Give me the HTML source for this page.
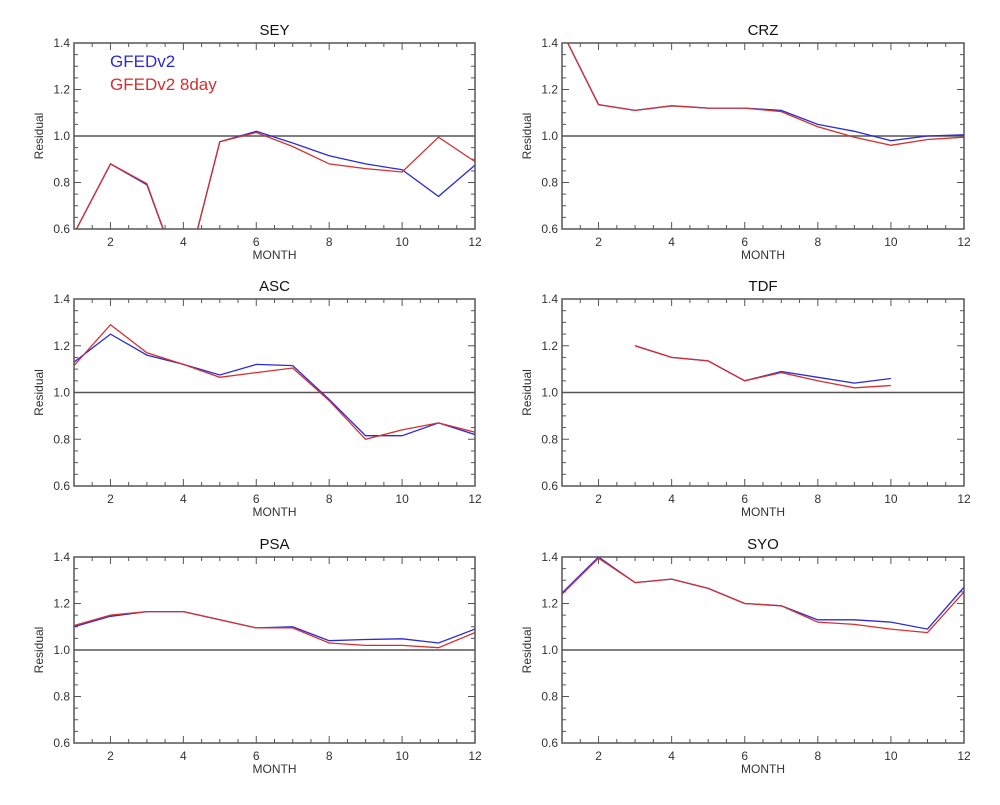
<!DOCTYPE html>
<html><head><meta charset="utf-8">
<style>
html,body{margin:0;padding:0;background:#fff;}
svg{display:block;font-family:"Liberation Sans",sans-serif;}
</style></head>
<body>
<svg id="fig" width="1000" height="805" viewBox="0 0 1000 805" xmlns="http://www.w3.org/2000/svg"></svg>
<script>
const months = [1,2,3,4,5,6,7,8,9,10,11,12];
const panelNames = ["SEY","CRZ","ASC","TDF","PSA","SYO"];
const yTicks = [0.6,0.8,1.0,1.2,1.4];
const yTickLabels = ["0.6","0.8","1.0","1.2","1.4"];
const xTicks = [2,4,6,8,10,12];
const seyBlue = [0.58,0.88,0.79,0.36,0.975,1.02,0.97,0.915,0.88,0.855,0.74,0.875];
const seyRed  = [0.58,0.88,0.795,0.36,0.975,1.015,0.955,0.88,0.86,0.845,0.995,0.89];
const crzBlue = [1.45,1.135,1.11,1.13,1.12,1.12,1.11,1.05,1.02,0.98,1.0,1.005];
const crzRed  = [1.45,1.135,1.11,1.13,1.12,1.12,1.105,1.04,0.995,0.96,0.985,0.995];
const ascBlue = [1.13,1.25,1.16,1.12,1.075,1.12,1.115,0.97,0.815,0.815,0.87,0.82];
const ascRed  = [1.115,1.29,1.17,1.12,1.065,1.085,1.105,0.965,0.80,0.84,0.87,0.83];
const tdfBlue = [null,null,1.20,1.15,1.135,1.05,1.09,1.065,1.04,1.06,null,null];
const tdfRed  = [null,null,1.20,1.15,1.135,1.05,1.085,1.05,1.02,1.03,null,null];
const psaBlue = [1.10,1.145,1.165,1.165,1.13,1.095,1.10,1.04,1.045,1.048,1.03,1.09];
const psaRed  = [1.105,1.15,1.165,1.165,1.13,1.095,1.095,1.03,1.02,1.02,1.01,1.075];
const syoBlue = [1.245,1.40,1.29,1.305,1.265,1.20,1.19,1.13,1.13,1.12,1.09,1.27];
const syoRed  = [1.24,1.395,1.29,1.305,1.265,1.20,1.19,1.12,1.11,1.09,1.075,1.25];

const blueSeries = [seyBlue,crzBlue,ascBlue,tdfBlue,psaBlue,syoBlue];
const redSeries = [seyRed,crzRed,ascRed,tdfRed,psaRed,syoRed];

const NS = "http://www.w3.org/2000/svg";
const svg = document.getElementById("fig");
function mk(tag, attrs, parent){
  const e = document.createElementNS(NS, tag);
  for (const k in attrs) e.setAttribute(k, attrs[k]);
  (parent||svg).appendChild(e);
  return e;
}
const lefts = [74,562], rights = [475,964];
const tops = [43,299,557], bottoms = [229,486,743];

panelNames.forEach((name, i) => {
  const col = i % 2, row = Math.floor(i/2);
  const L = lefts[col], R = rights[col], T = tops[row], B = bottoms[row];
  const xs = m => L + (m-1)/(11)*(R-L);
  const ys = v => B - (v-0.6)/0.8*(B-T);
  const g = mk("g", {});
  
  
  const clipId = "clip"+i;
  const cp = mk("clipPath", {id: clipId}, g);
  mk("rect", {x:L, y:T, width:R-L, height:B-T}, cp);

  // minor/major ticks
  for (let m = 1; m <= 12.001; m += 0.5) {
    const major = (m % 2 === 0);
    const len = major ? 7 : 4;
    const x = xs(m);
    mk("line", {x1:x, y1:B, x2:x, y2:B-len, stroke:"#555", "stroke-width":1}, g);
    mk("line", {x1:x, y1:T, x2:x, y2:T+len, stroke:"#555", "stroke-width":1}, g);
  }
  for (let k = 0; k <= 16; k++) {
    const v = 0.6 + k*0.05;
    const major = (k % 4 === 0);
    const len = major ? 7 : 4;
    const y = ys(v);
    mk("line", {x1:L, y1:y, x2:L+len, y2:y, stroke:"#555", "stroke-width":1}, g);
    mk("line", {x1:R, y1:y, x2:R-len, y2:y, stroke:"#555", "stroke-width":1}, g);
  }
  // reference line
  const ref = mk("line", {x1:L, y1:ys(1.0), x2:R, y2:ys(1.0), stroke:"#555", "stroke-width":1.5}, g);
  
  

  // series
  [[blueSeries[i],"#2b2bd8","gfedv2"],[redSeries[i],"#d43030","gfedv2-8day"]].forEach(([arr,color,nm]) => {
    let d = "", pen = false;
    arr.forEach((v, j) => {
      if (v === null) { pen = false; return; }
      d += (pen ? "L" : "M") + xs(months[j]).toFixed(1) + "," + ys(v).toFixed(1);
      pen = true;
    });
    const p = mk("path", {d:d, fill:"none", stroke:color, "stroke-width":1.3, "clip-path":"url(#"+clipId+")"}, g);
    
    
  });

  // frame
  mk("rect", {x:L, y:T, width:R-L, height:B-T, fill:"none", stroke:"#555", "stroke-width":1.5}, g);

  // labels
  yTicks.forEach((v, k) => {
    const t = mk("text", {x:L-4, y:ys(v)+4, "text-anchor":"end", "font-size":12, fill:"#333"}, g);
    t.textContent = yTickLabels[k];
    
    
  });
  xTicks.forEach(m => {
    const t = mk("text", {x:xs(m), y:B+17, "text-anchor":"middle", "font-size":12, fill:"#333"}, g);
    t.textContent = String(m);
    
    
  });
  const xt = mk("text", {x:(L+R)/2, y:B+30, "text-anchor":"middle", "font-size":12, fill:"#333"}, g);
  xt.textContent = "MONTH";
  
  
  const yt = mk("text", {x:0, y:0, "text-anchor":"middle", "font-size":12, fill:"#333", transform:"translate("+(L-31)+","+((T+B)/2)+") rotate(-90)"}, g);
  yt.textContent = "Residual";
  
  
  const tt = mk("text", {x:(L+R)/2, y:T-8, "text-anchor":"middle", "font-size":15, fill:"#111"}, g);
  tt.textContent = name;
  
  

  if (i === 0) {
    const l1 = mk("text", {x:110, y:67, "font-size":17, fill:"#2b2bd8"}, g);
    l1.textContent = "GFEDv2";
    
    
    const l2 = mk("text", {x:110, y:90, "font-size":17, fill:"#d43030"}, g);
    l2.textContent = "GFEDv2 8day";
    
    
  }
});
</script>
</body></html>
